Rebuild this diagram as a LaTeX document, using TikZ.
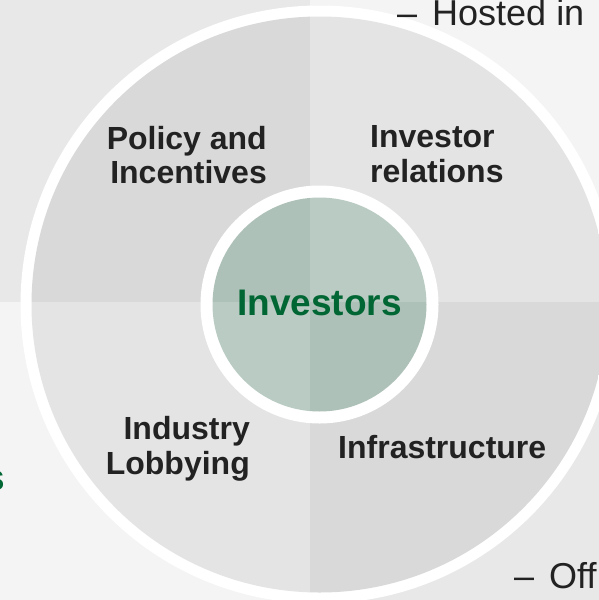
\documentclass[tikz,border=0pt]{standalone}
\usepackage{fontspec}
\setmainfont{Liberation Sans}
\definecolor{bgdark}{HTML}{E8E8E8}
\definecolor{bglight}{HTML}{F4F4F4}
\definecolor{ringdark}{HTML}{D9D9D9}
\definecolor{ringlight}{HTML}{E4E4E4}
\definecolor{coredark}{HTML}{AEC1B8}
\definecolor{corelight}{HTML}{B9CBC2}
\definecolor{leafgreen}{HTML}{006633}
\definecolor{inkgray}{HTML}{222222}
\tikzset{
  label text/.style={font=\fontsize{32}{34.5}\selectfont\bfseries, text=inkgray, inner sep=0pt},
  bullet text/.style={font=\fontsize{36}{40}\selectfont, text=inkgray, inner sep=0pt},
  hub text/.style={font=\fontsize{37}{40}\selectfont\bfseries, text=leafgreen, inner sep=0pt}
}
\begin{document}
\begin{tikzpicture}[x=1pt,y=-1pt]
  \useasboundingbox (0,0) rectangle (599,600);
  % quadrant split point and wheel centre
  \coordinate (split) at (310,302);
  \coordinate (hub) at (319.5,304.5);
  % page background in four tones
  \fill[bgdark]  (0,0) rectangle (split);
  \fill[bglight] (599,0) rectangle (split);
  \fill[bglight] (0,600) rectangle (split);
  \fill[bgdark]  (599,600) rectangle (split);
  % outer wheel with white rim
  \fill[white] (hub) circle[radius=299];
  \begin{scope}
    \clip (hub) circle[radius=288];
    \fill[ringdark]  (0,0) rectangle (split);
    \fill[ringlight] (640,0) rectangle (split);
    \fill[ringlight] (0,640) rectangle (split);
    \fill[ringdark]  (640,640) rectangle (split);
  \end{scope}
  % inner core with white rim
  \fill[white] (hub) circle[radius=119];
  \begin{scope}
    \clip (hub) circle[radius=107];
    \fill[coredark]  (0,0) rectangle (split);
    \fill[corelight] (640,0) rectangle (split);
    \fill[corelight] (0,640) rectangle (split);
    \fill[coredark]  (640,640) rectangle (split);
  \end{scope}
  % labels (multi-line nodes are placed by the baseline of their last line)
  \node[hub text, anchor=base] (core) at (319.5,315.5) {Investors};
  \node[label text, anchor=base east, align=right] (policy) at (267,183.5) {Policy and\\Incentives};
  \node[label text, anchor=base west, align=left] (relations) at (370,182) {Investor\\relations};
  \node[label text, anchor=base east, align=right] (lobby) at (250,474) {Industry\\Lobbying};
  \node[label text, anchor=base west] (infra) at (338,458.5) {Infrastructure};
  % side texts
  \node[bullet text, anchor=base west] (hosted) at (397,25) {–\hspace{15pt}Hosted in};
  \node[bullet text, anchor=base west] (off) at (514,588) {–\hspace{15pt}Off};
  \node[hub text, anchor=base east] (tail) at (5.5,490) {s};
\end{tikzpicture}
\end{document}
